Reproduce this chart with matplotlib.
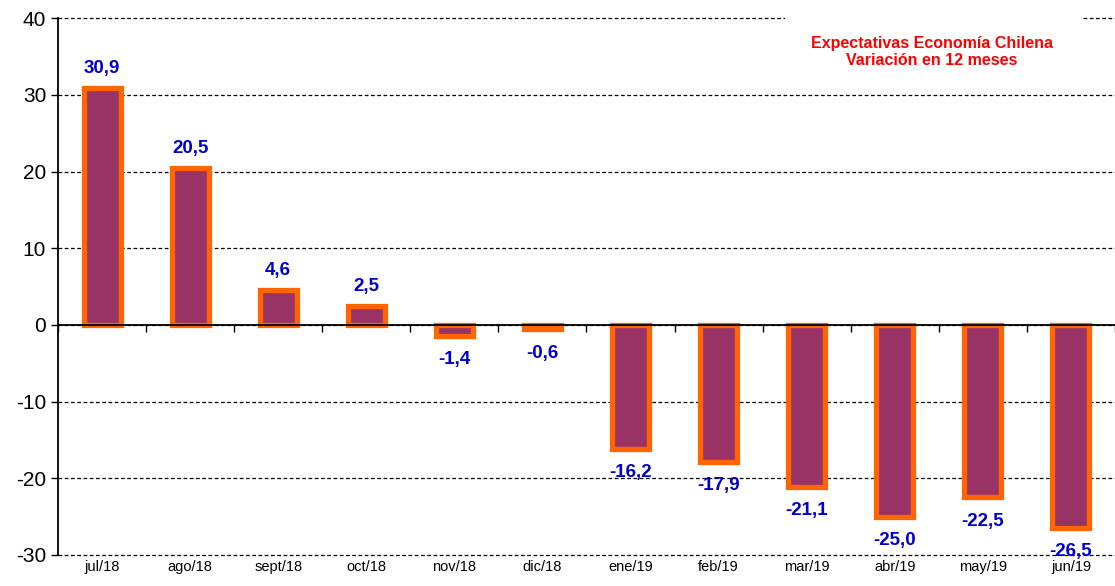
import matplotlib.pyplot as plt
import numpy as np
from matplotlib.patches import Rectangle

months = ['jul/18', 'ago/18', 'sept/18', 'oct/18', 'nov/18', 'dic/18',
          'ene/19', 'feb/19', 'mar/19', 'abr/19', 'may/19', 'jun/19']
values = [30.9, 20.5, 4.6, 2.5, -1.4, -0.6,
          -16.2, -17.9, -21.1, -25.0, -22.5, -26.5]
y_ticks = [-30, -20, -10, 0, 10, 20, 30, 40]

plt.rcParams['font.family'] = ['Liberation Sans', 'DejaVu Sans']
plt.rcParams['axes.unicode_minus'] = False

fig = plt.figure(figsize=(11.15, 5.86), dpi=100)
ax = fig.add_axes([0.052, 0.053, 0.948, 0.916])

x = np.arange(len(months))
ax.bar(x, values, width=0.42, color='#993366', edgecolor='#FF6600',
       linewidth=3.8, zorder=3)

# data labels
for xi, v in zip(x, values):
    lbl = ('%.1f' % v).replace('.', ',')
    off = 14 if v > 0 else -17
    ax.annotate(lbl, (xi, v), xytext=(0, off), textcoords='offset points',
                ha='center', va='center', color='#0000CC',
                fontsize=13.5, fontweight='bold', zorder=5)

ax.set_xlim(-0.5, len(months) - 0.5)
ax.set_ylim(-30, 40)
ax.set_yticks(y_ticks)
ax.tick_params(axis='y', labelsize=15, length=5, width=1, direction='out')
ax.set_xticks(x)
ax.set_xticklabels(months, fontsize=10.5)
ax.tick_params(axis='x', length=0, pad=4)

ax.grid(axis='y', color='black', linestyle=(0, (3, 2)), linewidth=0.9, zorder=0)
for gl in ax.get_ygridlines():
    gl.set_clip_on(False)
for s in ['top', 'right', 'bottom']:
    ax.spines[s].set_visible(False)
ax.spines['left'].set_linewidth(1.3)

# zero line with category boundary ticks
ax.axhline(0, color='black', linewidth=1.3, zorder=4)
bounds = np.arange(len(months) + 1) - 0.5
ax.plot(bounds, np.zeros_like(bounds), linestyle='none', marker=3,
        markersize=5, color='black', markeredgewidth=1, zorder=4, clip_on=False)

# title box (white background hides the top gridline)
fig.add_artist(Rectangle((0.704, 0.87), 0.267, 0.12, transform=fig.transFigure,
                         facecolor='white', edgecolor='none', zorder=5))
fig.text(0.836, 0.911, 'Expectativas Economía Chilena\nVariación en 12 meses',
         ha='center', va='center', color='#FF0000', fontsize=11.5,
         fontweight='bold', linespacing=1.2, zorder=6)

fig.savefig('out.png', dpi=100)
